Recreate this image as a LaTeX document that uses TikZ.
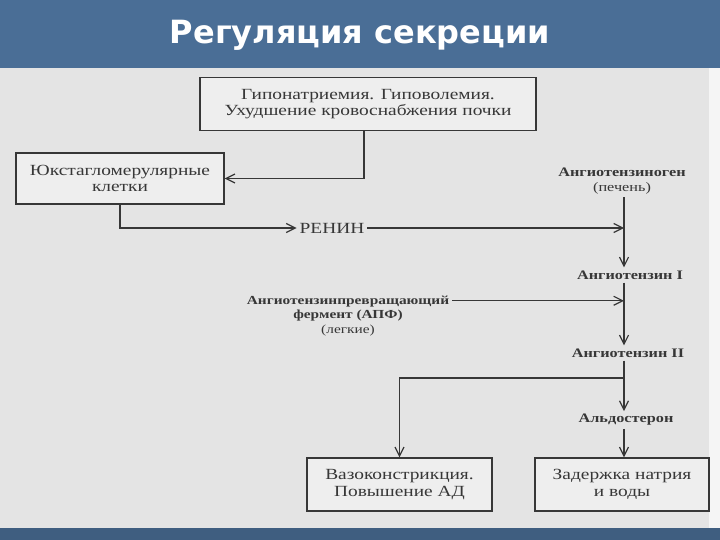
\documentclass[tikz,border=0pt]{standalone}
\usepackage{fontspec}
\newfontfamily\scanfont[FakeStretch=1.25]{Liberation Serif}
\newfontfamily\headfont{DejaVu Sans}
\usetikzlibrary{arrows.meta,positioning}
\definecolor{slidebar}{RGB}{74,110,150}
\definecolor{paper}{RGB}{228,228,228}
\definecolor{boxfill}{RGB}{238,238,238}
\definecolor{ink}{RGB}{55,55,55}

\begin{document}
\begin{tikzpicture}[x=1pt,y=-1pt,>={Straight Barb[length=9pt,width=9pt]},
                    every node/.style={text=ink,align=center,inner sep=3pt,
                      font=\scanfont\fontsize{15.5}{16.5}\selectfont},
                    link/.style={draw=ink,line width=1.2pt},
                    arr/.style={link,->},
                    panel/.style={draw=ink,line width=1.3pt,fill=boxfill},
                    term/.style={font=\scanfont\bfseries\fontsize{13}{15}\selectfont}]
  % slide background
  \useasboundingbox (0,0) rectangle (720,540);
  \fill[paper] (0,68) rectangle (720,528);
  \fill[white!92!gray] (709,68) rectangle (720,528);
  \fill[slidebar] (0,0) rectangle (720,68);
  \fill[slidebar!85!black] (0,528) rectangle (720,540);
  \node[text=white,font=\headfont\bfseries\fontsize{32}{32}\selectfont] (title) at (360,35) {Регуляция секреции};

  % boxes and labels
  \node[panel,minimum width=336pt,minimum height=53pt] (cause) at (368,104)
    {Гипонатриемия. Гиповолемия.\\Ухудшение кровоснабжения почки};
  \node[panel,minimum width=208pt,minimum height=51pt] (jg) at (120,178.5)
    {Юкстагломерулярные\\клетки};
  \node (renin) at (332,228) {РЕНИН};
  \node[term] (agen) at (622,181) {Ангиотензиноген\\{\mdseries(печень)}};
  \node[term] (ang1) at (630,275) {Ангиотензин I};
  \node[term,font=\scanfont\bfseries\fontsize{12.3}{14.5}\selectfont] (ace) at (348,316)
    {Ангиотензинпревращающий\\фермент (АПФ)\\{\mdseries(легкие)}};
  \node[term] (ang2) at (628,353) {Ангиотензин II};
  \coordinate (split) at (624,378);
  \node[term] (aldo) at (626,420) {Альдостерон};
  \node[panel,minimum width=185pt,minimum height=53pt,
        font=\scanfont\fontsize{15.5}{17.5}\selectfont] (vaso) at (399.5,484.5)
    {Вазоконстрикция.\\Повышение АД};
  \node[panel,minimum width=174pt,minimum height=53pt,
        font=\scanfont\fontsize{15.5}{17.5}\selectfont] (retain) at (622,484.5)
    {Задержка натрия\\и воды};

  % connectors
  \draw[arr] ([xshift=-4pt]cause.south) |- (jg.east);
  \draw[arr] (jg.south) |- (renin.west);
  \draw[arr] (renin.east) -- (renin.east -| split);
  \draw[arr] (split |- agen.south) -- (split |- ang1.north);
  \draw[arr] ([yshift=-8pt]ace.north east) -- ([yshift=-8pt]ace.north east -| split);
  \draw[arr] (split |- ang1.south) -- (split |- ang2.north);
  \draw[link] (split |- ang2.south) -- (split);
  \draw[arr] (split) -| (vaso.north);
  \draw[arr] (split) -- (split |- aldo.north);
  \draw[arr] (split |- aldo.south) -- (split |- retain.north);
\end{tikzpicture}
\end{document}
